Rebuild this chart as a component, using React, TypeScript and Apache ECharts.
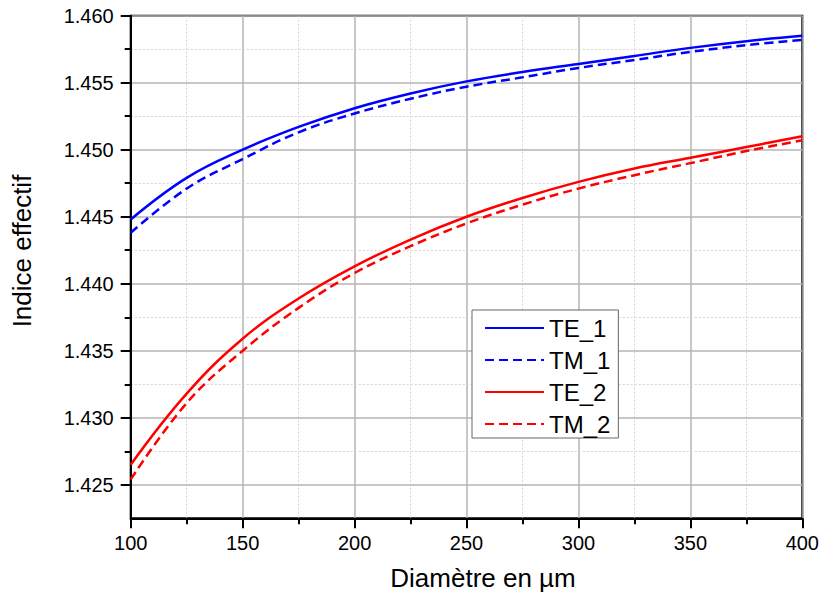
import React, { useEffect, useRef } from "react";
import * as echarts from "echarts";

const diameters = [100, 125, 150, 175, 200, 225, 250, 275, 300, 325, 350, 375, 400];
const te1 = [1.4448, 1.4479, 1.45, 1.4517, 1.4531, 1.4542, 1.4551, 1.4558, 1.4564, 1.457, 1.4576, 1.4581, 1.4585];
const tm1 = [1.4438, 1.4471, 1.4493, 1.4513, 1.4527, 1.4538, 1.4547, 1.4554, 1.4561, 1.4567, 1.4573, 1.4578, 1.4582];
const te2 = [1.4265, 1.4318, 1.4359, 1.4389, 1.4413, 1.4433, 1.445, 1.4464, 1.4476, 1.4486, 1.4494, 1.4502, 1.451];
const tm2 = [1.4254, 1.4311, 1.435, 1.4382, 1.4408, 1.4428, 1.4445, 1.4459, 1.4471, 1.4481, 1.449, 1.4499, 1.4507];

const yMajorTicks = [1.425, 1.43, 1.435, 1.44, 1.445, 1.45, 1.455, 1.46];
const yMinorTicks = [1.4275, 1.4325, 1.4375, 1.4425, 1.4475, 1.4525, 1.4575];

const seriesNames = ["TE_1", "TM_1", "TE_2", "TM_2"];
const FONT = "'Liberation Sans', Arial, sans-serif";

export default function App() {
  const ref = useRef<HTMLDivElement>(null);
  useEffect(() => {
    if (!ref.current) return;
    const chart = echarts.init(ref.current, undefined, { renderer: "svg" });
    const pair = (arr: number[]) => diameters.map((d, i) => [d, arr[i]]);
    const mk = (name: string, data: number[], color: string, dashed: boolean) => ({
      name,
      type: "line",
      data: pair(data),
      smooth: 0.4,
      symbol: "none",
      xAxisIndex: 0,
      yAxisIndex: 0,
      lineStyle: { color, width: 2.5, type: dashed ? [9, 5] : "solid" },
      itemStyle: { color },
      z: 5,
    });
    chart.setOption({
      animation: false,
      textStyle: { fontFamily: FONT },
      grid: {
        left: 130.7,
        right: 19.3,
        top: 15.7,
        bottom: 80.7,
        show: true,
        borderColor: "#000",
        borderWidth: 2,
        backgroundColor: "transparent",
      },
      legend: {
        orient: "vertical",
        left: 472,
        top: 310,
        padding: [6, 8, 2, 12],
        itemWidth: 59,
        itemHeight: 14,
        itemGap: 8,
        backgroundColor: "#fff",
        borderColor: "#666",
        borderWidth: 1,
        borderRadius: 0,
        itemStyle: { opacity: 0 },
        textStyle: { fontSize: 24, color: "#000", fontFamily: FONT, lineHeight: 24 },
        data: seriesNames,
      },
      xAxis: {
        type: "value",
        min: 100,
        max: 400,
        interval: 50,
        name: "Diamètre en µm",
        nameLocation: "middle",
        nameGap: 47,
        nameTextStyle: { fontSize: 26, color: "#000", fontFamily: FONT, padding: [0, 0, 0, 33] },
        axisLine: { show: true, onZero: false, lineStyle: { color: "#000", width: 2 } },
        axisTick: { show: true, inside: false, length: 10, lineStyle: { color: "#000", width: 2 } },
        minorTick: { show: true, splitNumber: 2, length: 6, lineStyle: { color: "#000", width: 2 } },
        axisLabel: { fontSize: 20, color: "#000", margin: 15, fontFamily: FONT },
        splitLine: { show: true, lineStyle: { color: "#b4b4b4", width: 1.5, type: "solid" } },
        minorSplitLine: { show: true, lineStyle: { color: "#d6d6d6", width: 1, type: [2, 2] } },
      },
      yAxis: [
        {
          type: "value",
          min: 1.4225,
          max: 1.46,
          position: "left",
          name: "Indice effectif",
          nameLocation: "middle",
          nameGap: 96,
          nameTextStyle: { fontSize: 26, color: "#000", fontFamily: FONT, padding: [0, 0, 0, 32] },
          axisLine: { show: true, onZero: false, lineStyle: { color: "#000", width: 2 } },
          axisTick: {
            show: true,
            inside: false,
            length: 10,
            customValues: yMajorTicks,
            lineStyle: { color: "#000", width: 2 },
          },
          axisLabel: {
            fontSize: 20,
            color: "#000",
            margin: 17,
            fontFamily: FONT,
            customValues: yMajorTicks,
            formatter: (v: number) => v.toFixed(3),
          },
          splitLine: { show: true, lineStyle: { color: "#b4b4b4", width: 1.5, type: "solid" } },
          z: 3,
        },
        {
          type: "value",
          min: 1.4225,
          max: 1.46,
          position: "left",
          offset: 0,
          axisLine: { show: false, onZero: false },
          axisTick: {
            show: true,
            inside: false,
            length: 6,
            customValues: yMinorTicks,
            lineStyle: { color: "#000", width: 2 },
          },
          axisLabel: { show: false },
          splitLine: { show: true, lineStyle: { color: "#d6d6d6", width: 1, type: [2, 2] } },
          z: 2,
        },
      ],
      series: [
        mk("TE_1", te1, "#0000ff", false),
        mk("TM_1", tm1, "#0000ff", true),
        mk("TE_2", te2, "#ff0000", false),
        mk("TM_2", tm2, "#ff0000", true),
      ],
    });
    return () => chart.dispose();
  }, []);
  return (
    <div
      ref={ref}
      style={{ position: "fixed", left: 0, top: 0, width: 822, height: 599, background: "#fff" }}
    />
  );
}
